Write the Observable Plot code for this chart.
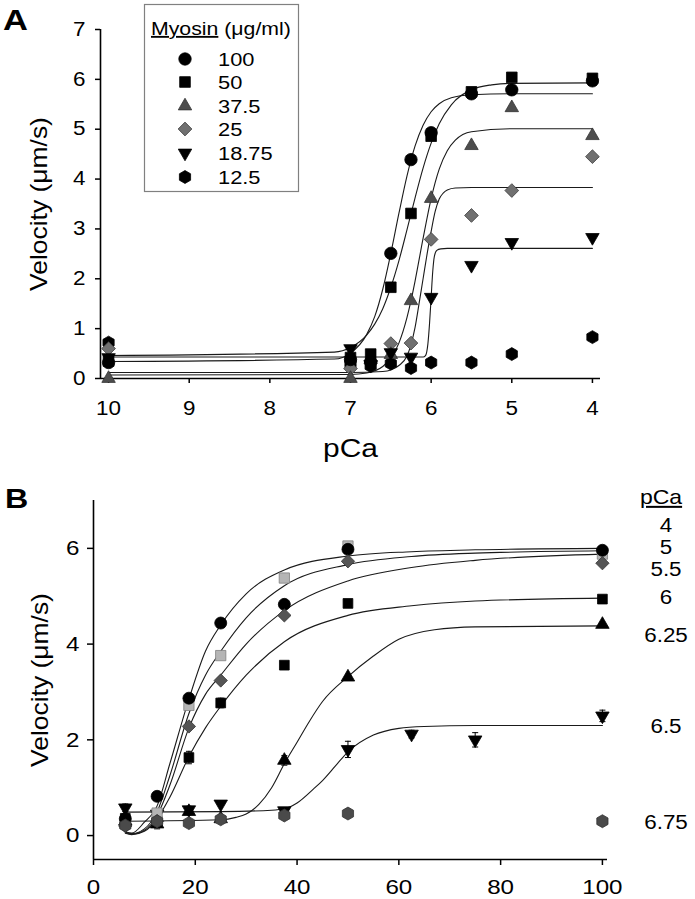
<!DOCTYPE html>
<html><head><meta charset="utf-8">
<script src="https://cdn.jsdelivr.net/npm/d3@7"></script>
<script src="https://cdn.jsdelivr.net/npm/@observablehq/plot@0.6"></script>
<style>
body{margin:0;background:#fff;}
#wrap{position:relative;width:695px;height:899px;overflow:hidden;background:#fff;}
#wrap svg{position:absolute;left:0;}
</style></head><body><div id="wrap"></div>
<script>
// ---------------- Panel A data (velocity vs pCa) ----------------
const pCaTicksA = [10, 9, 8, 7, 6, 5, 4];
const velTicksA = [0, 1, 2, 3, 4, 5, 6, 7];
const xDomainA = [10.1, 3.9];
const yDomainA = [0, 7];
const pCaA = [10, 7, 6.75, 6.5, 6.25, 6, 5.5, 5, 4];
const myosinLevels = ["100", "50", "37.5", "25", "18.75", "12.5"];
const velA100   = [0.32, 0.38, 0.33, 2.51, 4.39, 4.93, 5.71, 5.79, 5.97];
const velA50    = [0.35, 0.42, 0.49, 1.83, 3.31, 4.86, 5.75, 6.04, 6.02];
const velA37_5  = [0.00, 0.00, 0.38, 0.48, 1.56, 3.61, 4.67, 5.43, 4.87];
const velA25    = [0.60, 0.20, 0.35, 0.70, 0.71, 2.79, 3.27, 3.77, 4.45];
const velA18_75 = [0.42, 0.60, 0.28, 0.52, 0.43, 1.63, 2.27, 2.73, 2.83];
const velA12_5  = [0.72, 0.30, 0.25, 0.30, 0.21, 0.32, 0.32, 0.49, 0.83];
// fitted curves
const fitA100X = [10, 7.2, 7, 6.8, 6.7, 6.6, 6.5, 6.4, 6.3, 6.2, 6.1, 6.0, 5.9, 5.75, 5.5, 5, 4];
const fitA100V = [0.34, 0.39, 0.51, 0.88, 1.24, 1.79, 2.51, 3.31, 4.06, 4.66, 5.08, 5.35, 5.51, 5.63, 5.69, 5.71, 5.71];
const fitA50X = [10, 7.2, 7, 6.8, 6.7, 6.6, 6.5, 6.4, 6.3, 6.2, 6.1, 6.0, 5.9, 5.75, 5.5, 5.25, 5, 4];
const fitA50V = [0.46, 0.53, 0.62, 0.87, 1.09, 1.40, 1.83, 2.36, 2.98, 3.62, 4.22, 4.72, 5.11, 5.49, 5.79, 5.89, 5.92, 5.93];
const fitA37_5X = [10, 7, 6.8, 6.6, 6.5, 6.4, 6.3, 6.25, 6.2, 6.1, 6.0, 5.9, 5.8, 5.7, 5.5, 5, 4];
const fitA37_5V = [0.07, 0.08, 0.11, 0.24, 0.41, 0.71, 1.22, 1.56, 1.95, 2.81, 3.61, 4.20, 4.57, 4.78, 4.95, 5.01, 5.01];
const fitA25X = [10, 7, 6.6, 6.5, 6.4, 6.3, 6.25, 6.2, 6.15, 6.1, 6.05, 6.0, 5.95, 5.9, 5.85, 5.8, 5.7, 5.5, 4];
const fitA25V = [0.12, 0.12, 0.14, 0.17, 0.26, 0.45, 0.68, 1.02, 1.5, 2.0, 2.5, 2.95, 3.35, 3.6, 3.72, 3.78, 3.82, 3.83, 3.83];
const fitA18_75X = [10, 6.1, 6.07, 6.04, 6.02, 6.0, 5.98, 5.96, 5.93, 5.88, 5.8, 4];
const fitA18_75V = [0.43, 0.43, 0.46, 0.7, 1.1, 1.63, 2.15, 2.45, 2.57, 2.60, 2.61, 2.61];

// ---------------- Panel B data (velocity vs myosin) ----------------
const myosinTicksB = [0, 20, 40, 60, 80, 100];
const velTicksB = [0, 2, 4, 6];
const xDomainB = [0, 101];
const yDomainB = [-0.5, 7];
const pCaLevels = ["4", "5", "5.5", "6", "6.25", "6.5", "6.75"];
const myosinB   = [6.25, 12.5, 18.75, 25, 37.5, 50, 100];
const myosinB65 = [6.25, 12.5, 18.75, 25, 37.5, 50, 62.5, 75, 100];
const velB4   = [0.35, 0.82, 2.87, 4.44, 4.83, 5.98, 5.96];
const velB5   = [0.25, 0.47, 2.72, 3.76, 5.38, 6.05, 5.88];
const velB5_5 = [0.20, 0.30, 2.28, 3.24, 4.60, 5.73, 5.69];
const velB6   = [0.36, 0.30, 1.63, 2.77, 3.56, 4.85, 4.94];
const velB6_25 = [0.30, 0.24, 0.50, 0.35, 1.57, 3.31, 4.41];
const velB6_5 = [0.58, 0.45, 0.54, 0.66, 0.52, 1.80, 2.12, 2.00, 2.50];
const velB6_75 = [0.21, 0.30, 0.26, 0.34, 0.42, 0.46, 0.30];
const errB5   = [0, 0, 0, 0, 0, 0.08, 0];
const errB6   = [0.05, 0.05, 0.13, 0.10, 0, 0, 0];
const errB6_25 = [0, 0.10, 0, 0, 0.10, 0, 0];
const errB6_5 = [0.08, 0, 0.07, 0, 0, 0.17, 0.08, 0.15, 0.12];
const fitBX = [6.25, 7.5, 10, 12.5, 15, 18.75, 22, 25, 30, 37.5, 50, 62.5, 75, 100];
const fitB4V   = [0.08, 0.05, 0.28, 0.62, 1.50, 2.85, 3.85, 4.40, 5.05, 5.55, 5.84, 5.93, 5.97, 6.00];
const fitB5V   = [0.07, 0.04, 0.14, 0.50, 1.25, 2.55, 3.35, 3.85, 4.55, 5.22, 5.66, 5.83, 5.90, 5.95];
const fitB5_5V = [0.06, 0.03, 0.11, 0.42, 1.05, 2.25, 2.95, 3.35, 4.00, 4.70, 5.32, 5.60, 5.75, 5.88];
const fitB6V   = [0.05, 0.02, 0.09, 0.35, 0.80, 1.65, 2.25, 2.70, 3.35, 4.05, 4.60, 4.80, 4.90, 4.96];
const fitB6_25X = [6.25, 25, 28, 30, 32.5, 35, 37.5, 40, 42.5, 45, 50, 55, 60, 67, 75, 100];
const fitB6_25V = [0.30, 0.33, 0.38, 0.45, 0.65, 1.00, 1.50, 1.95, 2.40, 2.80, 3.32, 3.75, 4.10, 4.30, 4.36, 4.38];
const fitB6_5X = [6.25, 25, 35, 37.5, 40, 43.3, 45, 47.5, 50, 55, 60, 65, 75, 100];
const fitB6_5V = [0.49, 0.50, 0.53, 0.56, 0.68, 0.98, 1.15, 1.45, 1.75, 2.10, 2.24, 2.28, 2.30, 2.30];

// ---------------- styling ----------------
const FONT = '"Liberation Sans", Arial, Helvetica, sans-serif';
const SX = 1.15; // wide lettering of the original
const sqrt3 = Math.sqrt(3);
const triangleDown = {draw(ctx, size) {
  const y = -Math.sqrt(size / (sqrt3 * 3));
  ctx.moveTo(0, -y * 2); ctx.lineTo(-sqrt3 * y, y); ctx.lineTo(sqrt3 * y, y); ctx.closePath();
}};
const hexagon = {draw(ctx, size) {
  const rx = Math.sqrt(size / Math.PI), ry = rx * 2 / sqrt3, hy = ry / 2;
  ctx.moveTo(0, ry); ctx.lineTo(rx, hy); ctx.lineTo(rx, -hy); ctx.lineTo(0, -ry);
  ctx.lineTo(-rx, -hy); ctx.lineTo(-rx, hy); ctx.closePath();
}};
const capSym = {draw(ctx, size) { const w = Math.sqrt(size) / 2; ctx.moveTo(-w, 0); ctx.lineTo(w, 0); }};

const stylesA = {
  "100":   {symbol: d3.symbolCircle,   r: 6.2, fill: "#000", stroke: "#000"},
  "50":    {symbol: d3.symbolSquare,   r: 6.0, fill: "#000", stroke: "#000"},
  "37.5":  {symbol: d3.symbolTriangle, r: 5.0, fill: "#4d4d4d", stroke: "#333"},
  "25":    {symbol: d3.symbolDiamond2, r: 6.2, fill: "#707070", stroke: "#3c3c3c"},
  "18.75": {symbol: triangleDown,      r: 5.0, fill: "#000", stroke: "#000"},
  "12.5":  {symbol: hexagon,           r: 5.6, fill: "#000", stroke: "#000"}
};
const valsA = {"100": velA100, "50": velA50, "37.5": velA37_5, "25": velA25, "18.75": velA18_75, "12.5": velA12_5};
const fitsA = [[fitA100X, fitA100V], [fitA50X, fitA50V], [fitA37_5X, fitA37_5V], [fitA25X, fitA25V], [fitA18_75X, fitA18_75V]];
const drawOrderA = ["12.5", "25", "37.5", "18.75", "50", "100"];

const stylesB = {
  "4":    {symbol: d3.symbolCircle,   r: 6.0, fill: "#000", stroke: "#000"},
  "5":    {symbol: d3.symbolSquare,   r: 5.8, fill: "#b5b5b5", stroke: "#808080"},
  "5.5":  {symbol: d3.symbolDiamond2, r: 6.0, fill: "#555", stroke: "#333"},
  "6":    {symbol: d3.symbolSquare,   r: 5.5, fill: "#000", stroke: "#000"},
  "6.25": {symbol: d3.symbolTriangle, r: 5.0, fill: "#000", stroke: "#000"},
  "6.5":  {symbol: triangleDown,      r: 5.0, fill: "#000", stroke: "#000"},
  "6.75": {symbol: hexagon,           r: 5.6, fill: "#4a4a4a", stroke: "#333"}
};
const seriesB = {
  "4": [myosinB, velB4, null], "5": [myosinB, velB5, errB5], "5.5": [myosinB, velB5_5, null],
  "6": [myosinB, velB6, errB6], "6.25": [myosinB, velB6_25, errB6_25], "6.5": [myosinB65, velB6_5, errB6_5],
  "6.75": [myosinB, velB6_75, null]
};
const fitsB = [[fitBX, fitB4V], [fitBX, fitB5V], [fitBX, fitB5_5V], [fitBX, fitB6V], [fitB6_25X, fitB6_25V], [fitB6_5X, fitB6_5V]];
const drawOrderB = ["6.5", "6.25", "6", "5", "4", "5.5", "6.75"];

function widen(svg, sx) {
  svg.querySelectorAll("text").forEach(t => {
    let tr = t.getAttribute("transform");
    if (!tr) {
      const x = t.getAttribute("x") || 0, y = t.getAttribute("y") || 0;
      t.removeAttribute("x"); t.removeAttribute("y");
      tr = `translate(${x},${y})`;
    }
    t.setAttribute("transform", tr + ` scale(${sx},1)`);
  });
}

const wrap = document.getElementById("wrap");
const intFmt = d => String(d);

// ---------------- Panel A ----------------
const marksA = [
  Plot.ruleY([yDomainA[0]], {stroke: "#000", strokeWidth: 1.6}),
  Plot.ruleX([xDomainA[0]], {stroke: "#000", strokeWidth: 1.6}),
  Plot.axisX({ticks: pCaTicksA, tickFormat: intFmt, tickSize: 5, tickPadding: 18, fontSize: 19.5, label: null, strokeWidth: 1.5}),
  Plot.axisY({ticks: velTicksA, tickFormat: intFmt, tickSize: 5, tickPadding: 10, fontSize: 19.5, label: null, strokeWidth: 1.5}),
  ...fitsA.map(([xs, vs]) => Plot.line(xs.map((x, i) => ({x, v: vs[i]})), {x: "x", y: "v", stroke: "#1a1a1a", strokeWidth: 1.1, curve: "monotone-x"})),
  ...drawOrderA.map(k => {
    const s = stylesA[k];
    return Plot.dot(pCaA.map((p, i) => ({p, v: valsA[k][i]})), {x: "p", y: "v", symbol: s.symbol, r: s.r, fill: s.fill, stroke: s.stroke, strokeWidth: 0.8});
  }),
  Plot.text(["Velocity (μm/s)"], {text: d => d, frameAnchor: "left", textAnchor: "middle", dx: -61, rotate: -90, fontSize: 23, lineAnchor: "middle", fill: "#000"}),
  Plot.text(["pCa"], {text: d => d, frameAnchor: "bottom", textAnchor: "middle", dy: 70, fontSize: 26, lineAnchor: "middle", fill: "#000"})
];
const plotA = Plot.plot({
  width: 695, height: 470,
  marginLeft: 100, marginRight: 95, marginTop: 29, marginBottom: 92,
  style: {fontFamily: FONT, color: "#000", background: "transparent", overflow: "visible"},
  x: {domain: xDomainA},
  y: {domain: yDomainA},
  marks: marksA
});
widen(plotA, SX);
plotA.style.top = "0px";
wrap.appendChild(plotA);

// ---------------- Panel B ----------------
const errRows = [];
for (const k of Object.keys(seriesB)) {
  const [xs, vs, es] = seriesB[k];
  if (es) xs.forEach((x, i) => { if (es[i] > 0) errRows.push({x, lo: vs[i] - es[i], hi: vs[i] + es[i]}); });
}
const marksB = [
  Plot.ruleY([yDomainB[0]], {stroke: "#000", strokeWidth: 1.6}),
  Plot.ruleX([xDomainB[0]], {stroke: "#000", strokeWidth: 1.6}),
  Plot.axisX({ticks: myosinTicksB, tickFormat: intFmt, tickSize: 6, tickPadding: 14, fontSize: 21, label: null, strokeWidth: 1.5}),
  Plot.axisY({ticks: velTicksB, tickFormat: intFmt, tickSize: 6, tickPadding: 8, fontSize: 21, label: null, strokeWidth: 1.5}),
  Plot.ruleX(errRows, {x: "x", y1: "lo", y2: "hi", stroke: "#000", strokeWidth: 1}),
  Plot.dot(errRows, {x: "x", y: "hi", symbol: capSym, r: 3.4, fill: "none", stroke: "#000", strokeWidth: 1}),
  Plot.dot(errRows, {x: "x", y: "lo", symbol: capSym, r: 3.4, fill: "none", stroke: "#000", strokeWidth: 1}),
  ...fitsB.map(([xs, vs]) => Plot.line(xs.map((x, i) => ({x, v: vs[i]})), {x: "x", y: "v", stroke: "#1a1a1a", strokeWidth: 1.1, curve: "monotone-x"})),
  ...drawOrderB.map(k => {
    const s = stylesB[k], [xs, vs] = seriesB[k];
    return Plot.dot(xs.map((x, i) => ({x, v: vs[i]})), {x: "x", y: "v", symbol: s.symbol, r: s.r, fill: s.fill, stroke: s.stroke, strokeWidth: 0.8});
  }),
  Plot.text(["Velocity (μm/s)"], {text: d => d, frameAnchor: "left", textAnchor: "middle", dx: -53, rotate: -90, fontSize: 23, lineAnchor: "middle", fill: "#000"})
];
const plotB = Plot.plot({
  width: 695, height: 429,
  marginLeft: 93, marginRight: 88, marginTop: 30, marginBottom: 40,
  style: {fontFamily: FONT, color: "#000", background: "transparent", overflow: "visible"},
  x: {domain: xDomainB},
  y: {domain: yDomainB},
  marks: marksB
});
widen(plotB, SX);
plotB.style.top = "470px";
wrap.appendChild(plotB);

// ---------------- Overlay: panel letters, legend A, pCa labels B ----------------
const ov = d3.create("svg").attr("width", 695).attr("height", 899)
  .style("top", "0px").style("font-family", FONT);
function label(g, txt, x, y, size, anchor, weight) {
  return g.append("text").attr("transform", `translate(${x},${y}) scale(${SX},1)`)
    .attr("text-anchor", anchor || "start").attr("font-size", size)
    .attr("font-weight", weight || "normal").attr("fill", "#000").text(txt);
}
label(ov, "A", 3, 30, 30, "start", "bold");
label(ov, "B", 5, 508, 28, "start", "bold");

// legend A
const lg = ov.append("g");
lg.append("rect").attr("x", 144.5).attr("y", 4.5).attr("width", 154).attr("height", 187)
  .attr("fill", "#fff").attr("stroke", "#808080").attr("stroke-width", 1.2);
const lt = lg.append("text").attr("transform", `translate(151,35) scale(${SX},1)`)
  .attr("font-size", 18.5).attr("fill", "#000");
lt.append("tspan").attr("text-decoration", "underline").text("Myosin");
lt.append("tspan").text(" (μg/ml)");
const legendRowY = [59, 82, 106, 129, 153, 177];
myosinLevels.forEach((k, i) => {
  const s = stylesA[k];
  lg.append("path").attr("d", d3.symbol(s.symbol, Math.PI * s.r * s.r)())
    .attr("transform", `translate(185,${legendRowY[i]})`)
    .attr("fill", s.fill).attr("stroke", s.stroke).attr("stroke-width", 0.8);
  label(lg, k, 218, legendRowY[i] + 6.8, 19, "start");
});

// pCa labels B
const pl = ov.append("g");
pl.append("text").attr("transform", `translate(661,504) scale(${SX},1)`)
  .attr("text-anchor", "middle").attr("font-size", 20).attr("fill", "#000")
  .attr("text-decoration", "underline").text("pCa");
const pCaLabelY = [525, 547, 569, 597, 635, 726, 822];
pCaLevels.forEach((k, i) => label(pl, k, 666, pCaLabelY[i] + 7, 19.5, "middle"));

wrap.appendChild(ov.node());
</script></body></html>
